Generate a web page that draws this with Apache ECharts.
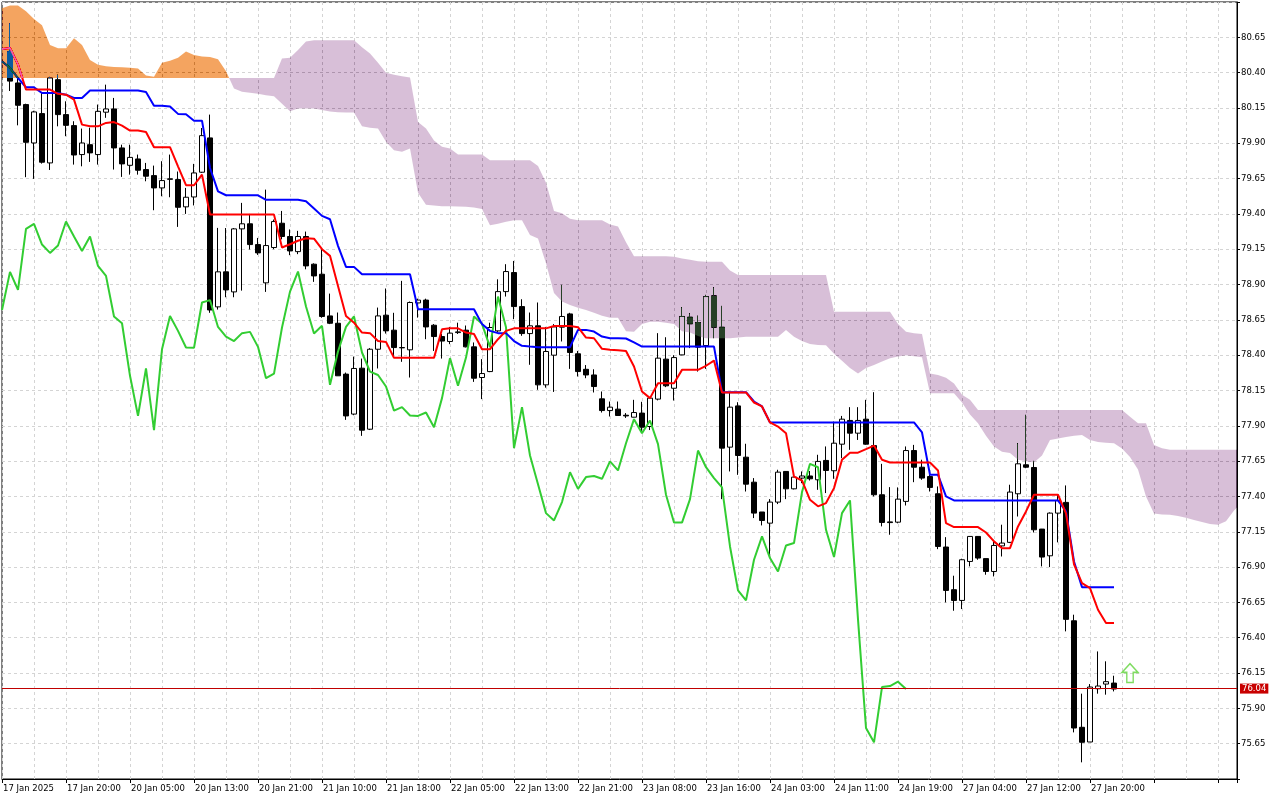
<!DOCTYPE html>
<html><head><meta charset="utf-8">
<script src="https://cdn.jsdelivr.net/npm/echarts@6/dist/echarts.min.js"></script>
<style>html,body{margin:0;padding:0;background:#fff}#c{width:1280px;height:800px}</style>
</head><body><div id="c"></div><script>
// ---- H1 candles, bars 0..138 ----
const opens = [
80.55,80.327,80.174,79.902,80.11,79.761,80.35,80.103,80.025,79.82,
79.89,79.82,80.12,80.143,79.867,79.744,79.789,79.714,79.671,79.584,
79.648,79.643,79.45,79.52,79.695,79.938,78.742,78.99,78.848,79.294,
79.33,79.183,78.912,79.162,79.334,79.24,79.133,79.24,79.044,78.973,
78.678,78.626,78.266,77.983,78.308,77.876,78.442,78.683,78.577,78.454,
78.438,78.77,78.79,78.612,78.532,78.497,78.56,78.577,78.459,78.242,
78.284,78.572,78.85,78.985,78.744,78.553,78.608,78.19,78.40,78.598,
78.692,78.41,78.30,78.26,78.091,78.008,78.018,77.975,77.961,77.99,
77.895,78.089,78.372,78.166,78.402,78.669,78.631,78.468,78.82,78.598,
77.749,78.041,77.678,77.501,77.29,77.211,77.36,77.577,77.454,77.53,
77.545,77.518,77.655,77.582,77.77,77.938,77.848,77.947,77.76,77.412,
77.22,77.218,77.365,77.725,77.607,77.541,77.419,77.042,76.74,76.664,
76.94,77.117,76.96,76.869,77.05,77.075,77.419,77.624,77.605,77.169,
76.98,77.282,77.358,76.52,75.766,75.662,76.039,76.072,76.079];
const highs = [
80.75,80.362,80.18,80.13,80.256,80.37,80.386,80.197,80.056,80.004,
80.01,80.174,80.315,80.221,79.89,79.89,79.82,79.761,79.742,79.773,
79.82,79.70,79.584,79.754,80.008,80.103,79.301,79.30,79.30,79.478,
79.40,79.23,79.572,79.36,79.421,79.29,79.28,79.275,79.05,79.155,
78.836,78.702,78.277,78.39,78.376,78.45,78.737,78.872,78.70,78.926,
78.78,78.80,78.80,78.62,78.55,78.60,78.63,78.61,78.49,78.372,
78.63,78.937,79.044,79.067,78.796,78.702,78.773,78.60,78.62,78.898,
78.70,78.43,78.33,78.30,78.143,78.072,78.072,77.99,78.084,78.07,
78.10,78.556,78.527,78.40,78.74,78.697,78.68,78.827,78.881,78.749,
78.136,78.067,77.773,77.53,77.29,77.381,77.589,77.58,77.55,77.577,
77.58,77.695,77.754,77.93,77.97,78.032,78.032,78.084,78.138,77.631,
77.466,77.464,77.754,77.765,77.66,77.565,77.471,77.112,76.839,76.959,
77.12,77.12,76.96,77.093,77.20,77.483,77.777,77.978,77.652,77.17,
77.287,77.412,77.478,76.563,76.004,76.072,76.303,76.233,76.131];
const lows = [
80.27,80.027,79.66,79.648,79.756,79.711,80.02,79.95,79.749,79.737,
79.768,79.749,80.08,79.714,79.662,79.678,79.678,79.631,79.426,79.525,
79.518,79.308,79.40,79.46,79.69,78.70,78.723,78.81,78.81,78.857,
79.148,79.11,78.848,79.15,79.22,79.108,79.115,79.008,78.919,78.665,
78.62,78.254,77.942,77.975,77.829,77.87,78.306,78.553,78.383,78.353,
78.242,78.666,78.513,78.43,78.376,78.478,78.55,78.455,78.211,78.089,
78.28,78.565,78.815,78.655,78.537,78.332,78.155,78.17,78.14,78.497,
78.303,78.249,78.237,78.136,77.994,77.966,77.97,77.956,77.96,77.855,
77.87,78.08,78.174,78.079,78.40,78.45,78.284,78.303,78.52,77.381,
77.577,77.553,77.435,77.247,77.195,76.987,77.346,77.381,77.45,77.494,
77.513,77.447,77.424,77.525,77.671,77.73,77.80,77.766,77.40,77.188,
77.129,77.21,77.336,77.501,77.518,77.435,77.027,76.65,76.591,76.603,
76.905,76.952,76.846,76.834,76.975,77.07,77.258,77.60,77.145,76.905,
76.90,77.075,76.445,75.73,75.518,75.662,76.004,75.997,76.02];
const closes = [
80.34,80.169,79.907,80.122,79.766,80.362,80.103,80.027,79.817,79.902,
79.832,80.126,80.143,79.867,79.754,79.80,79.709,79.667,79.584,79.636,
79.645,79.447,79.518,79.69,79.954,78.72,78.99,78.862,79.294,79.33,
79.183,79.124,79.176,79.346,79.24,79.138,79.24,79.032,78.961,78.674,
78.626,78.254,77.97,78.306,77.869,78.442,78.678,78.572,78.454,78.452,
78.773,78.79,78.60,78.532,78.50,78.556,78.565,78.459,78.237,78.27,
78.596,78.85,78.992,78.744,78.553,78.608,78.19,78.426,78.60,78.674,
78.419,78.284,78.26,78.178,78.008,78.032,77.973,77.97,77.994,77.89,
78.096,78.379,78.183,78.383,78.674,78.622,78.457,78.815,78.598,77.742,
78.032,77.69,77.487,77.282,77.23,77.36,77.572,77.454,77.537,77.545,
77.525,77.648,77.584,77.777,77.947,77.848,77.938,77.77,77.412,77.216,
77.215,77.381,77.725,77.607,77.53,77.464,77.046,76.735,76.664,76.952,
77.117,76.964,76.869,77.053,77.07,77.431,77.631,77.607,77.164,76.971,
77.282,77.372,76.53,75.761,75.66,76.051,76.058,76.089,76.037];

// ---- Ichimoku lines, bars -1..138 ----
const tenkan = [
80.567,80.575,80.457,80.28,80.28,80.28,80.28,80.25,80.244,80.209,
80.032,80.02,80.02,80.044,80.05,80.025,79.99,79.99,79.98,79.872,
79.872,79.872,79.737,79.603,79.603,79.678,79.395,79.395,79.395,79.395,
79.395,79.395,79.395,79.395,79.395,79.162,79.185,79.21,79.228,79.225,
79.15,79.103,78.89,78.678,78.63,78.56,78.556,78.50,78.494,78.381,
78.381,78.381,78.381,78.381,78.381,78.584,78.59,78.59,78.56,78.55,
78.442,78.442,78.513,78.572,78.59,78.59,78.59,78.59,78.59,78.607,
78.607,78.607,78.598,78.525,78.52,78.445,78.438,78.435,78.43,78.32,
78.143,78.096,78.202,78.202,78.202,78.296,78.296,78.296,78.325,78.362,
78.136,78.136,78.136,78.136,78.065,78.037,77.924,77.895,77.848,77.54,
77.513,77.376,77.33,77.353,77.459,77.66,77.71,77.71,77.735,77.76,
77.66,77.64,77.64,77.64,77.64,77.64,77.64,77.584,77.211,77.183,
77.183,77.183,77.183,77.145,77.082,77.034,77.034,77.188,77.294,77.412,
77.412,77.412,77.412,77.28,76.92,76.787,76.751,76.598,76.504,76.504];
const kijun = [
80.48,80.433,80.362,80.296,80.296,80.256,80.256,80.256,80.244,80.221,
80.221,80.273,80.273,80.273,80.273,80.273,80.273,80.273,80.263,80.166,
80.166,80.16,80.108,80.105,80.06,80.06,79.725,79.56,79.532,79.532,
79.532,79.532,79.532,79.50,79.50,79.50,79.50,79.50,79.49,79.438,
79.386,79.362,79.174,79.025,79.025,78.973,78.973,78.973,78.973,78.973,
78.973,78.973,78.725,78.725,78.725,78.725,78.725,78.725,78.725,78.725,
78.62,78.572,78.556,78.556,78.50,78.466,78.461,78.457,78.457,78.457,
78.457,78.457,78.579,78.579,78.567,78.532,78.52,78.52,78.518,78.49,
78.461,78.461,78.461,78.461,78.461,78.461,78.461,78.461,78.461,78.461,
78.138,78.138,78.138,78.138,78.072,78.037,77.924,77.924,77.924,77.924,
77.924,77.924,77.924,77.924,77.924,77.924,77.924,77.924,77.924,77.924,
77.924,77.924,77.924,77.924,77.924,77.853,77.553,77.553,77.40,77.372,
77.372,77.372,77.372,77.372,77.372,77.372,77.372,77.372,77.372,77.372,
77.372,77.372,77.372,77.294,76.94,76.758,76.758,76.758,76.758,76.758];

// ---- Senkou spans (cloud), bars -1..154 ----
const spanA = [
80.855,80.875,80.875,80.835,80.78,80.735,80.595,80.572,80.572,80.643,
80.595,80.49,80.455,80.445,80.44,80.438,80.435,80.43,80.38,80.37,
80.47,80.485,80.505,80.55,80.525,80.515,80.51,80.495,80.41,80.287,
80.265,80.258,80.25,80.24,80.233,80.18,80.127,80.146,80.146,80.146,
80.135,80.125,80.12,80.118,80.117,80.02,80.01,80.004,79.91,79.85,
79.84,79.863,79.55,79.465,79.46,79.455,79.455,79.452,79.45,79.445,
79.434,79.32,79.33,79.345,79.356,79.355,79.25,79.226,79.05,78.84,
78.78,78.755,78.735,78.72,78.70,78.68,78.665,78.665,78.57,78.565,
78.62,78.636,78.636,78.63,78.62,78.57,78.56,78.535,78.52,78.52,
78.52,78.52,78.525,78.53,78.53,78.53,78.53,78.53,78.578,78.53,
78.50,78.48,78.472,78.47,78.41,78.36,78.31,78.27,78.31,78.33,
78.355,78.378,78.39,78.40,78.392,78.385,78.13,78.13,78.13,78.13,
78.065,77.98,77.918,77.83,77.753,77.717,77.708,77.659,77.65,77.64,
77.69,77.80,77.81,77.82,77.83,77.835,77.80,77.785,77.78,77.777,
77.74,77.68,77.59,77.40,77.28,77.272,77.27,77.262,77.25,77.234,
77.22,77.205,77.20,77.225,77.30,77.36];
const spanB = [
80.362,80.362,80.362,80.362,80.362,80.362,80.362,80.362,80.362,80.362,
80.362,80.362,80.362,80.362,80.362,80.362,80.362,80.362,80.362,80.362,
80.362,80.362,80.362,80.362,80.362,80.362,80.362,80.362,80.362,80.362,
80.362,80.362,80.362,80.362,80.362,80.50,80.505,80.56,80.62,80.63,
80.63,80.63,80.63,80.63,80.63,80.58,80.535,80.47,80.40,80.385,
80.375,80.365,80.05,80.004,79.92,79.875,79.863,79.82,79.82,79.82,
79.82,79.78,79.78,79.78,79.78,79.78,79.78,79.74,79.62,79.42,
79.405,79.365,79.356,79.356,79.356,79.356,79.325,79.31,79.20,79.10,
79.10,79.10,79.10,79.10,79.097,79.085,79.075,79.065,79.061,79.061,
79.061,79.00,78.967,78.967,78.967,78.967,78.967,78.967,78.967,78.967,
78.967,78.967,78.967,78.967,78.707,78.707,78.707,78.707,78.707,78.707,
78.707,78.707,78.62,78.566,78.555,78.55,78.27,78.26,78.24,78.20,
78.12,78.085,78.012,78.012,78.012,78.012,78.012,78.012,78.012,78.012,
78.012,78.012,78.012,78.012,78.012,78.012,78.012,78.012,78.012,78.012,
78.012,77.965,77.918,77.918,77.765,77.741,77.73,77.73,77.73,77.73,
77.73,77.73,77.73,77.73,77.73,77.73];

const tickLabels = ['17 Jan 2025','17 Jan 20:00','20 Jan 05:00','20 Jan 13:00','20 Jan 21:00',
 '21 Jan 10:00','21 Jan 18:00','22 Jan 05:00','22 Jan 13:00','22 Jan 21:00','23 Jan 08:00',
 '23 Jan 16:00','24 Jan 03:00','24 Jan 11:00','24 Jan 19:00','27 Jan 04:00','27 Jan 12:00','27 Jan 20:00'];

const lineStartBar = -1;   // first bar of tenkan/kijun/spans arrays
const chikouShift = 26;
const signalBar = 140, signalPrice = 76.15;
const lastPrice = closes[closes.length - 1];

// x position = bar + 1
const X = b => b + 1;
const candleData = opens.map((o, i) => [X(i), o, closes[i], lows[i], highs[i]]);
const tenkanData = tenkan.map((v, k) => [X(lineStartBar + k), v]);
const kijunData = kijun.map((v, k) => [X(lineStartBar + k), v]);
const chikouData = [];
for (let b = lineStartBar; b + chikouShift < closes.length; b++) chikouData.push([X(b), closes[b + chikouShift]]);

// contiguous cloud regions split where span A crosses span B
const regions = [];
(function () {
  let cur = null;
  for (let k = 0; k < spanA.length; k++) {
    const x = X(lineStartBar + k), a = spanA[k], b = spanB[k], d = a - b;
    const sign = d >= 0 ? 1 : -1;
    if (!cur) cur = { sign, top: [], bot: [] };
    else if (sign !== cur.sign) {
      const pa = spanA[k - 1], pb = spanB[k - 1], pd = pa - pb;
      const t = pd / (pd - d);
      const cx = x - 1 + t, cy = pa + t * (a - pa);
      cur.top.push([cx, cy]); cur.bot.push([cx, cy]);
      regions.push(cur);
      cur = { sign, top: [[cx, cy]], bot: [[cx, cy]] };
    }
    cur.top.push([x, a]); cur.bot.push([x, b]);
  }
  regions.push(cur);
})();

// cloud is painted in "difference" mode with the inverse colour (sandybrown / thistle on white)
const CLOUD_UP = 'rgb(11,91,159)', CLOUD_DN = 'rgb(39,64,39)';

const FONT = 'DejaVu Sans';
const chart = echarts.init(document.getElementById('c'), null, { renderer: 'canvas' });
const dash = { color: '#d4d4d4', type: [3, 3], width: 1 };
chart.setOption({
  animation: false,
  backgroundColor: '#ffffff',
  grid: { left: 2, right: 43, top: 2, bottom: 21, show: true, borderColor: '#000', borderWidth: 1, backgroundColor: 'transparent' },
  xAxis: [{
    type: 'value', min: 0, max: 154.375, interval: 8, position: 'bottom',
    axisLine: { show: true, onZero: false, lineStyle: { color: '#000', width: 1 } },
    axisTick: { show: true, length: 4, lineStyle: { color: '#000' } },
    axisLabel: { show: true, align: 'left', margin: 5, color: '#000', fontFamily: FONT, fontSize: 8.5,
      padding: [0, 0, 0, 1],
      formatter: v => (Math.abs(v % 8) < 1e-6 && tickLabels[Math.round(v / 8)]) ? tickLabels[Math.round(v / 8)] : '' },
    splitLine: { show: false }
  }, {
    type: 'value', min: 0, max: 154.375, interval: 4, position: 'top',
    axisLine: { show: false }, axisTick: { show: false }, axisLabel: { show: false },
    splitLine: { show: true, lineStyle: dash }
  }],
  yAxis: {
    type: 'value', position: 'right', min: 75.40, max: 80.90, interval: 0.25, scale: true,
    axisLine: { show: true, onZero: false, lineStyle: { color: '#000', width: 1 } },
    axisTick: { show: true, length: 3, lineStyle: { color: '#000' } },
    axisLabel: { show: true, margin: 4, color: '#000', fontFamily: FONT, fontSize: 8.5,
      formatter: v => (v < 75.5 || v > 80.8) ? '' : v.toFixed(2) },
    splitLine: { show: true, lineStyle: dash }
  },
  series: [
    {
      type: 'candlestick', name: 'price', data: candleData, encode: { x: 0, y: [1, 2, 3, 4] },
      barWidth: 5, z: 2,
      itemStyle: { color: '#ffffff', color0: '#000000', borderColor: '#000000', borderColor0: '#000000', borderColorDoji: '#000000', borderWidth: 1 },
      markLine: {
        silent: true, symbol: 'none', animation: false,
        data: [{ yAxis: lastPrice }],
        lineStyle: { color: '#c00000', width: 1, type: 'solid' },
        label: { show: true, position: 'end', distance: 3, formatter: lastPrice.toFixed(2), color: '#fff',
          backgroundColor: '#c80000', padding: [1, 2, 0, 2], fontFamily: FONT, fontSize: 8.5 }
      }
    },
    { type: 'line', name: 'Chikou', data: chikouData, symbol: 'none', z: 3, lineStyle: { color: '#32cd32', width: 2 } },
    { type: 'line', name: 'Kijun', data: kijunData, symbol: 'none', z: 3, lineStyle: { color: '#0000ff', width: 2 } },
    { type: 'line', name: 'Tenkan', data: tenkanData, symbol: 'none', z: 4, lineStyle: { color: '#ff0000', width: 2 } },
    {
      type: 'scatter', name: 'signal', data: [[X(signalBar), signalPrice]], z: 4,
      symbol: 'path://M5,0 L10,6 L7,6 L7,13 L3,13 L3,6 L0,6 Z', symbolSize: [16, 19],
      itemStyle: { color: 'rgba(255,255,255,0)', borderColor: '#5fd33a', borderWidth: 1.5 }
    },
    {
      type: 'custom', name: 'cloud', z: 10, silent: true, clip: true,
      data: regions.map((r, i) => [r.top[0][0], r.top[0][1]]),
      encode: { x: 0, y: 1 },
      renderItem: function (params, api) {
        const r = regions[params.dataIndex];
        const pts = r.top.map(p => api.coord(p)).concat(r.bot.slice().reverse().map(p => api.coord(p)));
        const cs = params.coordSys;
        return {
          type: 'polygon', shape: { points: pts },
          clipPath: { type: 'rect', shape: { x: cs.x, y: cs.y, width: cs.width, height: cs.height } },
          style: { fill: r.sign > 0 ? CLOUD_UP : CLOUD_DN, blend: 'difference', stroke: null }
        };
      }
    }
  ]
});

// make sure the cloud polygons use the difference composite mode
(function applyBlend() {
  const zr = chart.getZr();
  const list = zr.storage.getDisplayList(true);
  list.forEach(el => {
    const f = el.style && el.style.fill;
    if (f === CLOUD_UP || f === CLOUD_DN) {
      el.style.blend = 'difference';
      if (el.setStyle) el.setStyle('blend', 'difference');
      el.markRedraw && el.markRedraw();
    }
  });
  zr.refreshImmediately();
})();
</script></body></html>
